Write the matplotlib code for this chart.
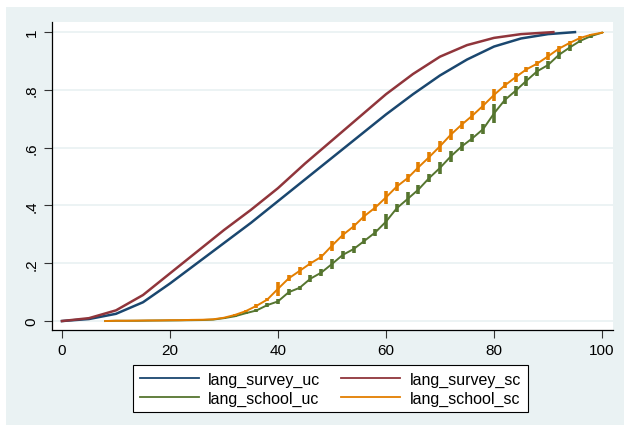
import matplotlib
matplotlib.use("Agg")
import matplotlib.pyplot as plt
from matplotlib.patches import Rectangle

plt.rcParams['font.family'] = ['Liberation Sans', 'DejaVu Sans']

# survey curves (smooth cdfs), read every 5 points
survey_uc_x = [0, 5, 10, 15, 20, 25, 30, 35, 40, 45, 50, 55, 60, 65, 70, 75, 80, 85, 90, 95]
survey_uc_y = [0, 0.007, 0.025, 0.065, 0.13, 0.2, 0.27, 0.34, 0.415, 0.49, 0.565, 0.64,
               0.715, 0.785, 0.85, 0.905, 0.95, 0.978, 0.993, 1.0]
survey_sc_x = [0, 5, 10, 15, 20, 25, 30, 35, 40, 45, 50, 55, 60, 65, 70, 75, 80, 85, 91]
survey_sc_y = [0, 0.01, 0.037, 0.09, 0.165, 0.24, 0.315, 0.385, 0.46, 0.545, 0.625, 0.705,
               0.785, 0.855, 0.915, 0.955, 0.98, 0.993, 1.0]

# school curves: score values and the low/high end of the jump at each value
school_x = [8, 10, 12, 14, 16, 18, 20, 22, 24, 26, 28, 30, 32, 34, 36, 38, 40, 42, 44, 46,
            48, 50, 52, 54, 56, 58, 60, 62, 64, 66, 68, 70, 72, 74, 76, 78, 80, 82, 84, 86,
            88, 90, 92, 94, 96, 98, 100]
uc_lo = [0, .001, .001, .001, .001, .002, .002, .002, .003, .003, .004, .008, .014, .024,
         .033, .048, .058, .090, .108, .135, .155, .180, .215, .237, .266, .295, .318, .376,
         .400, .440, .480, .510, .550, .590, .618, .647, .687, .750, .780, .814, .849, .872,
         .907, .935, .964, .980, .996]
uc_hi = [0, .001, .001, .001, .002, .002, .002, .003, .003, .004, .006, .012, .019, .030,
         .040, .062, .078, .110, .122, .158, .180, .215, .243, .261, .289, .318, .370, .405,
         .445, .470, .510, .550, .590, .618, .647, .682, .750, .780, .814, .849, .880, .900,
         .935, .958, .976, .993, 1.0]
sc_lo = [0, .001, .001, .001, .002, .002, .003, .003, .004, .004, .005, .010, .018, .030,
         .045, .068, .088, .138, .160, .190, .212, .244, .284, .314, .345, .380, .405, .451,
         .480, .515, .551, .586, .626, .666, .695, .729, .762, .805, .828, .862, .882, .902,
         .932, .955, .972, .989, .996]
sc_hi = [0, .001, .001, .002, .002, .002, .003, .003, .004, .005, .007, .013, .024, .038,
         .060, .080, .135, .158, .187, .209, .232, .278, .312, .341, .382, .405, .451, .480,
         .509, .549, .584, .624, .664, .693, .727, .762, .803, .826, .860, .880, .900, .930,
         .953, .970, .988, .993, 1.0]

navy = '#1A476F'
maroon = '#90353B'
green = '#55752F'
orange = '#E37E00'
bg = '#EAF2F3'

fig = plt.figure(figsize=(6.24, 4.27), dpi=100)
fig.patch.set_facecolor('white')
fig.patches.append(Rectangle((6/624, 1/427), 618/624, 418/427, transform=fig.transFigure,
                             facecolor=bg, edgecolor='none', zorder=-5))

ax = fig.add_axes([52/624, 1 - 331/427, (613-52)/624, (331-23)/427])
ax.set_zorder(2)
ax.set_facecolor('white')

for y in [0, .2, .4, .6, .8, 1]:
    ax.axhline(y, color=bg, lw=1.3, zorder=1)

l1, = ax.plot(survey_uc_x, survey_uc_y, color=navy, lw=1.8, label='lang_survey_uc', zorder=3)
l2, = ax.plot(survey_sc_x, survey_sc_y, color=maroon, lw=1.8, label='lang_survey_sc', zorder=3)

uc_mid = [(a + b) / 2 for a, b in zip(uc_lo, uc_hi)]
sc_mid = [(a + b) / 2 for a, b in zip(sc_lo, sc_hi)]
l3, = ax.plot(school_x, uc_mid, color=green, lw=1.4, label='lang_school_uc', zorder=3)
ax.vlines(school_x, uc_lo, uc_hi, color=green, lw=2.6, zorder=3)
l4, = ax.plot(school_x, sc_mid, color=orange, lw=1.4, label='lang_school_sc', zorder=4)
ax.vlines(school_x, sc_lo, sc_hi, color=orange, lw=2.6, zorder=4)

ax.set_xlim(-1.85, 102.04)
ax.set_ylim(-0.031, 1.035)
ax.set_xticks([0, 20, 40, 60, 80, 100])
ax.set_yticks([0, .2, .4, .6, .8, 1])
ax.set_yticklabels(['0', '.2', '.4', '.6', '.8', '1'], rotation=90, va='center')
ax.tick_params(length=6, width=0.8, labelsize=11, color='#333333')
for s in ['top', 'right']:
    ax.spines[s].set_visible(False)
for s in ['left', 'bottom']:
    ax.spines[s].set_color('black')
    ax.spines[s].set_linewidth(0.9)

leg = fig.legend([l1, l3, l2, l4], ['lang_survey_uc', 'lang_school_uc', 'lang_survey_sc',
                                     'lang_school_sc'],
                 ncol=2, loc='upper center', bbox_to_anchor=(330.5/624, 1 - 358/427),
                 fontsize=11.5, handlelength=3.7, columnspacing=1.3, handletextpad=0.6,
                 labelspacing=0.25, borderpad=0.4, fancybox=False, frameon=True,
                 framealpha=1, facecolor='white')
leg.get_frame().set_edgecolor('black')
leg.get_frame().set_linewidth(0.8)
for h in leg.get_lines():
    h.set_linewidth(1.3)

fig.savefig('out.png', dpi=100, facecolor='white')
